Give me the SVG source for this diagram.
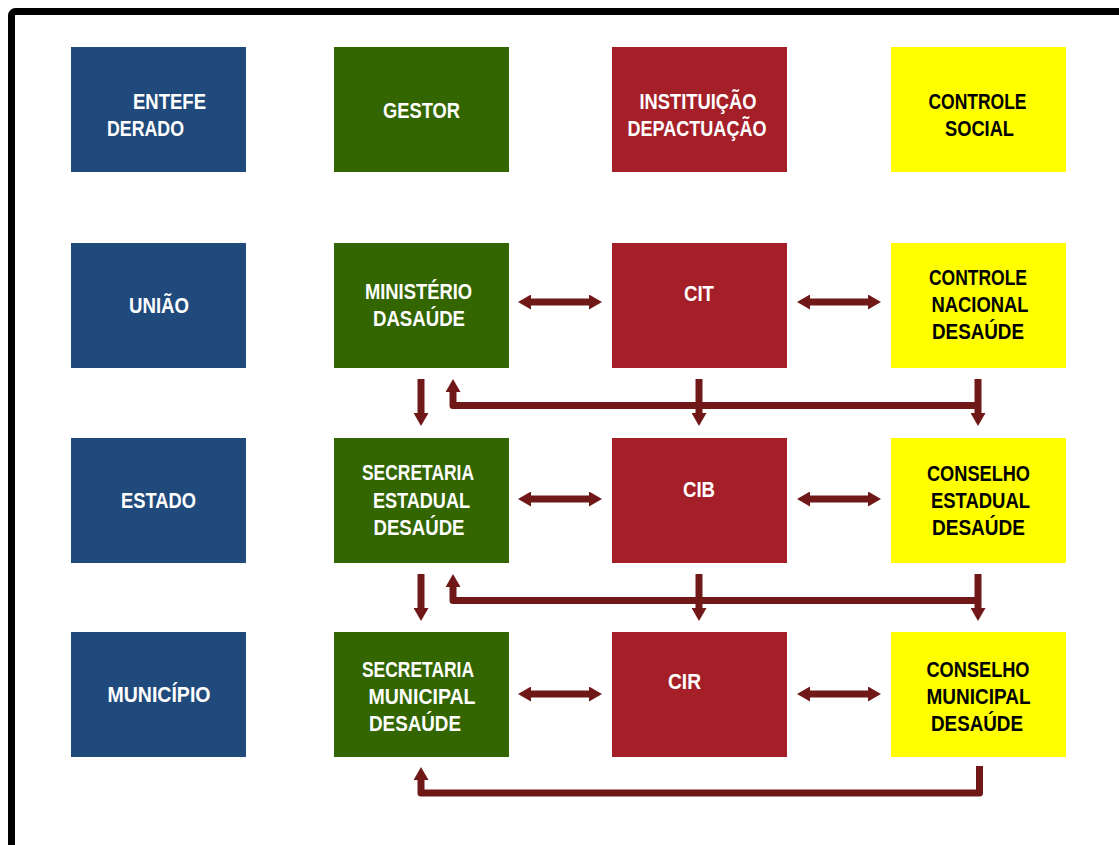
<svg xmlns="http://www.w3.org/2000/svg" width="1119" height="845" viewBox="0 0 1119 845">
<style>
.bg{fill:#ffffff}
.frame{fill:none;stroke:#000000;stroke-width:7}
.blue{fill:#214A7C}
.green{fill:#336600}
.red{fill:#A51F29}
.yellow{fill:#FFFF00}
text{font-family:"Liberation Sans Narrow","Liberation Sans",Arial,sans-serif;font-weight:bold;font-size:22px;text-anchor:middle}
.lt{fill:#ffffff}
.dk{fill:#000000}
.st{text-anchor:start}
.conn{fill:none;stroke:#701818;stroke-width:7;stroke-linejoin:round}
</style>
<defs>
<marker id="ah" markerUnits="userSpaceOnUse" markerWidth="13" markerHeight="15" refX="3" refY="7.5" orient="auto-start-reverse" viewBox="0 0 13 15">
<path d="M0,0 L13,7.5 L0,15 Z" fill="#701818"/>
</marker>
</defs>
<rect class="bg" x="0" y="0" width="1119" height="845"/>
<rect class="frame" x="11.5" y="11.5" width="1130" height="860" rx="4"/>

<g id="h-ente"><rect class="blue" x="71" y="47" width="175" height="125"/><text class="lt st" x="133" y="109" textLength="73" lengthAdjust="spacingAndGlyphs">ENTEFE</text><text class="lt st" x="107" y="136" textLength="77" lengthAdjust="spacingAndGlyphs">DERADO</text></g>
<g id="h-gestor"><rect class="green" x="334" y="47" width="175" height="125"/><text class="lt" x="421.5" y="118" textLength="77" lengthAdjust="spacingAndGlyphs">GESTOR</text></g>
<g id="h-inst"><rect class="red" x="612" y="47" width="175" height="125"/><text class="lt" x="698" y="109" textLength="117" lengthAdjust="spacingAndGlyphs">INSTITUIÇÃO</text><text class="lt" x="697" y="136" textLength="139" lengthAdjust="spacingAndGlyphs">DEPACTUAÇÃO</text></g>
<g id="h-controle"><rect class="yellow" x="891" y="47" width="175" height="125"/><text class="dk" x="977.5" y="109" textLength="98" lengthAdjust="spacingAndGlyphs">CONTROLE</text><text class="dk" x="979.5" y="136" textLength="69" lengthAdjust="spacingAndGlyphs">SOCIAL</text></g>

<g id="uniao"><rect class="blue" x="71" y="243" width="175" height="125"/><text class="lt" x="159" y="313" textLength="60" lengthAdjust="spacingAndGlyphs">UNIÃO</text></g>
<g id="ministerio"><rect class="green" x="334" y="243" width="175" height="125"/><text class="lt" x="418.5" y="299" textLength="107" lengthAdjust="spacingAndGlyphs">MINISTÉRIO</text><text class="lt" x="419" y="326" textLength="92" lengthAdjust="spacingAndGlyphs">DASAÚDE</text></g>
<g id="cit"><rect class="red" x="612" y="243" width="175" height="125"/><text class="lt" x="699" y="301" textLength="30" lengthAdjust="spacingAndGlyphs">CIT</text></g>
<g id="cns"><rect class="yellow" x="891" y="243" width="175" height="125"/><text class="dk" x="978" y="285" textLength="98" lengthAdjust="spacingAndGlyphs">CONTROLE</text><text class="dk" x="980" y="312" textLength="97" lengthAdjust="spacingAndGlyphs">NACIONAL</text><text class="dk" x="978" y="339" textLength="92" lengthAdjust="spacingAndGlyphs">DESAÚDE</text></g>

<g id="estado"><rect class="blue" x="71" y="438" width="175" height="125"/><text class="lt" x="158.5" y="508" textLength="75" lengthAdjust="spacingAndGlyphs">ESTADO</text></g>
<g id="ses"><rect class="green" x="334" y="438" width="175" height="125"/><text class="lt" x="418" y="480" textLength="112" lengthAdjust="spacingAndGlyphs">SECRETARIA</text><text class="lt" x="421.5" y="507.5" textLength="97" lengthAdjust="spacingAndGlyphs">ESTADUAL</text><text class="lt" x="419" y="534.5" textLength="91" lengthAdjust="spacingAndGlyphs">DESAÚDE</text></g>
<g id="cib"><rect class="red" x="612" y="438" width="175" height="125"/><text class="lt" x="699" y="497" textLength="32" lengthAdjust="spacingAndGlyphs">CIB</text></g>
<g id="ces"><rect class="yellow" x="891" y="438" width="175" height="125"/><text class="dk" x="978.5" y="481" textLength="103" lengthAdjust="spacingAndGlyphs">CONSELHO</text><text class="dk" x="980.5" y="508" textLength="99" lengthAdjust="spacingAndGlyphs">ESTADUAL</text><text class="dk" x="978.5" y="535" textLength="93" lengthAdjust="spacingAndGlyphs">DESAÚDE</text></g>

<g id="municipio"><rect class="blue" x="71" y="632" width="175" height="125"/><text class="lt" x="159" y="701.5" textLength="103" lengthAdjust="spacingAndGlyphs">MUNICÍPIO</text></g>
<g id="sms"><rect class="green" x="334" y="632" width="175" height="125"/><text class="lt" x="418" y="677" textLength="112" lengthAdjust="spacingAndGlyphs">SECRETARIA</text><text class="lt" x="422" y="704" textLength="107" lengthAdjust="spacingAndGlyphs">MUNICIPAL</text><text class="lt" x="415" y="731" textLength="92" lengthAdjust="spacingAndGlyphs">DESAÚDE</text></g>
<g id="cir"><rect class="red" x="612" y="632" width="175" height="125"/><text class="lt" x="684.5" y="689" textLength="33" lengthAdjust="spacingAndGlyphs">CIR</text></g>
<g id="cms"><rect class="yellow" x="891" y="632" width="175" height="125"/><text class="dk" x="978" y="677" textLength="103" lengthAdjust="spacingAndGlyphs">CONSELHO</text><text class="dk" x="978.5" y="704" textLength="104" lengthAdjust="spacingAndGlyphs">MUNICIPAL</text><text class="dk" x="977" y="731" textLength="92" lengthAdjust="spacingAndGlyphs">DESAÚDE</text></g>

<g id="connectors">
<line class="conn" x1="528" y1="302" x2="592" y2="302" marker-start="url(#ah)" marker-end="url(#ah)"/>
<line class="conn" x1="807" y1="302" x2="871" y2="302" marker-start="url(#ah)" marker-end="url(#ah)"/>
<line class="conn" x1="528" y1="499" x2="592" y2="499" marker-start="url(#ah)" marker-end="url(#ah)"/>
<line class="conn" x1="807" y1="499" x2="871" y2="499" marker-start="url(#ah)" marker-end="url(#ah)"/>
<line class="conn" x1="528" y1="694" x2="592" y2="694" marker-start="url(#ah)" marker-end="url(#ah)"/>
<line class="conn" x1="807" y1="694" x2="871" y2="694" marker-start="url(#ah)" marker-end="url(#ah)"/>

<line class="conn" x1="421" y1="379" x2="421" y2="416" marker-end="url(#ah)"/>
<path class="conn" d="M978,405.5 H453 V389" marker-end="url(#ah)"/>
<line class="conn" x1="699" y1="379" x2="699" y2="416" marker-end="url(#ah)"/>
<line class="conn" x1="978" y1="379" x2="978" y2="416" marker-end="url(#ah)"/>

<line class="conn" x1="421" y1="574" x2="421" y2="611" marker-end="url(#ah)"/>
<path class="conn" d="M978,600.5 H453 V584" marker-end="url(#ah)"/>
<line class="conn" x1="699" y1="574" x2="699" y2="611" marker-end="url(#ah)"/>
<line class="conn" x1="978" y1="574" x2="978" y2="611" marker-end="url(#ah)"/>

<path class="conn" d="M979.5,766 V793 H421 V777" marker-end="url(#ah)"/>
</g>
</svg>
